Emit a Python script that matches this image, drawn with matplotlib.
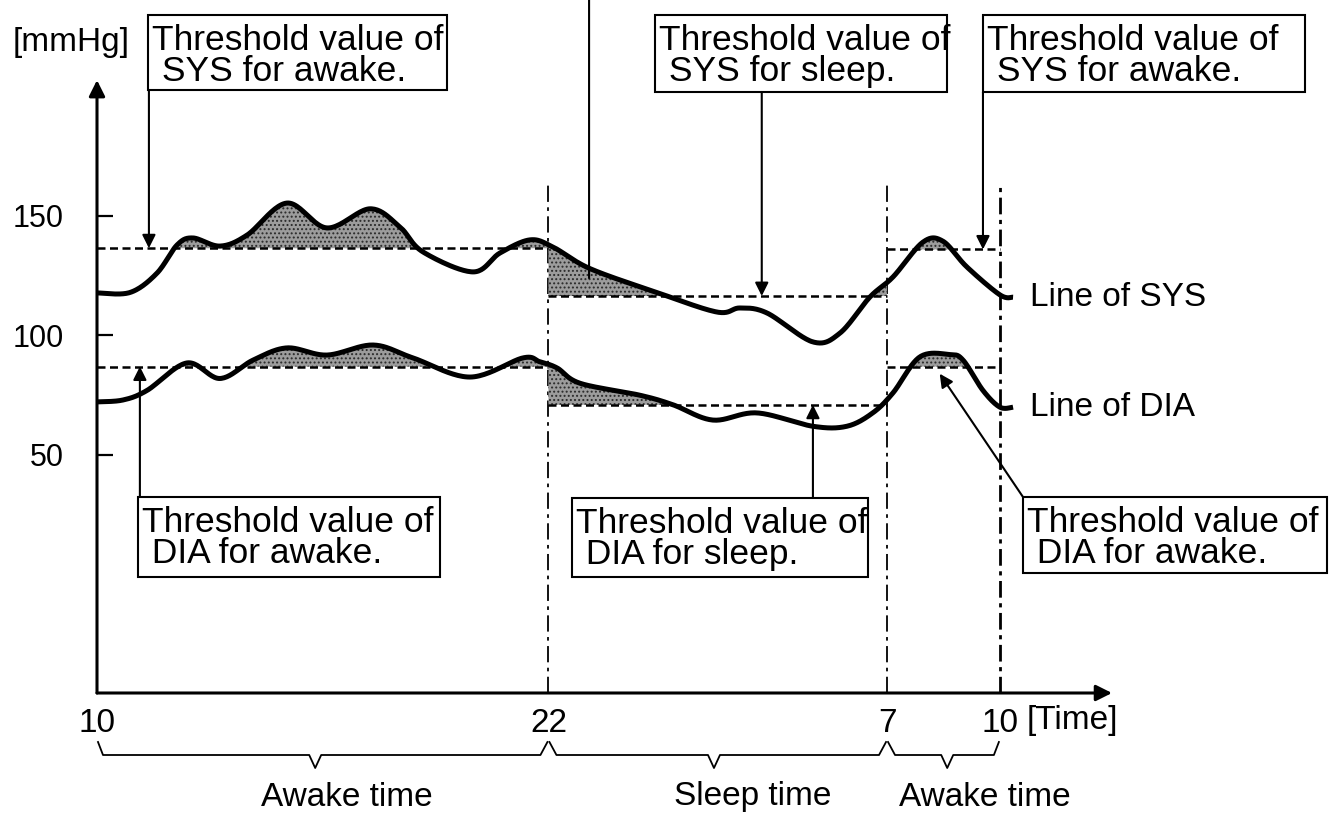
import numpy as np
import matplotlib
matplotlib.use("Agg")
import matplotlib.pyplot as plt
from matplotlib.patches import Rectangle
from matplotlib.lines import Line2D
from matplotlib.transforms import blended_transform_factory

plt.rcParams['font.family'] = ['Liberation Sans', 'DejaVu Sans']
plt.rcParams['hatch.linewidth'] = 0.9

# ---- data -------------------------------------------------------------
# hours elapsed since 10:00
time_sys = [0.0, 0.88, 1.59, 2.13, 2.55, 3.27, 3.99, 5.05, 6.11, 7.26, 8.05,
            8.66, 9.99, 10.71, 11.51, 12.12, 13.1, 14.88, 16.48, 17.09, 17.81,
            19.03, 19.75, 20.54, 21.16, 21.95, 22.48, 23.12, 24.0, 24.35]
sys_vals = [117.8, 118, 126, 137.9, 140.8, 137.4, 142, 155.4, 145, 153, 145.4,
            135, 126.6, 134.5, 140, 137, 128, 118, 109.8, 111.5, 109.4,
            97.3, 101, 116, 124.5, 139, 139.5, 128.7, 117, 116]

time_dia = [0.0, 0.69, 1.33, 2.39, 3.27, 4.15, 5.05, 6.11, 7.34, 8.4, 9.91,
            11.32, 11.77, 12.23, 12.84, 14.43, 15.31, 16.37, 17.54, 19.03,
            19.93, 20.62, 21.16, 21.87, 22.67, 23.02, 23.55, 24.0, 24.35]
dia_vals = [72.2, 73, 77, 88.5, 82, 89.7, 94.8, 91.8, 96, 90.6, 82.6,
            90.6, 89, 86.4, 80, 75, 71, 64.6, 67.6, 62,
            62, 67.6, 76, 91, 92, 89.7, 77, 70, 70]

# periods: (start hour, end hour)
period_bounds = [(0, 12), (12, 21), (21, 24)]
sys_thresholds = [136.5, 116.5, 136.0]
dia_thresholds = [87.0, 71.0, 87.0]

tick_hours = [0, 12, 21, 24]
tick_labels = ['10', '22', '7', '10']
ytick_vals = [50, 100, 150]

period_names = ['Awake time', 'Sleep time', 'Awake time']


def catmull_rom(xs, ys, n=24):
    pts = np.column_stack([xs, ys]).astype(float)
    P = np.vstack([pts[0], pts, pts[-1]])
    segs = []
    t = np.linspace(0, 1, n, endpoint=False)[:, None]
    for i in range(1, len(P) - 2):
        p0, p1, p2, p3 = P[i - 1], P[i], P[i + 1], P[i + 2]
        seg = 0.5 * (2 * p1 + (-p0 + p2) * t
                     + (2 * p0 - 5 * p1 + 4 * p2 - p3) * t ** 2
                     + (-p0 + 3 * p1 - 3 * p2 + p3) * t ** 3)
        segs.append(seg)
    segs.append(pts[-1][None])
    c = np.vstack(segs)
    order = np.argsort(c[:, 0], kind='stable')
    return c[order, 0], c[order, 1]


W, H = 1334, 817
fig = plt.figure(figsize=(W / 100, H / 100), dpi=100)
fig.patch.set_facecolor('white')


def fx(x):
    return x / W


def fy(y):
    return 1 - y / H


ax = fig.add_axes([fx(97), fy(693), (1112 - 97) / W, (693 - 85) / H])
ax.set_xlim(0, 26.98)
ax.set_ylim(-49.6, 204.8)
for s in ax.spines.values():
    s.set_visible(False)
ax.patch.set_alpha(0)

FS = 24
BOX_FS = 25.5
ax.set_yticks(ytick_vals)
ax.set_yticklabels([str(v) for v in ytick_vals], fontsize=22)
ax.tick_params(axis='y', direction='in', length=11.5, width=1.6, pad=24)
ax.set_xticks(tick_hours)
ax.set_xticklabels(tick_labels, fontsize=FS)
ax.tick_params(axis='x', length=0, pad=11)

# axes with arrowheads
arrow_kw = dict(arrowstyle='-|>', lw=2.2, color='black', mutation_scale=24,
                shrinkA=0, shrinkB=0)
ax.annotate('', xy=(0, 1.008), xycoords='axes fraction', xytext=(0, 0),
            arrowprops=arrow_kw, annotation_clip=False)
ax.annotate('', xy=(1, 0), xycoords='axes fraction', xytext=(0, 0),
            arrowprops=arrow_kw, annotation_clip=False)

# period boundaries
ax.plot([12, 12], [-49.6, 163.8], color='black', lw=1.3, ls=(0, (9, 3, 2, 3)))
ax.plot([21, 21], [-49.6, 163.8], color='black', lw=1.3, ls=(0, (9, 3, 2, 3)))
ax.plot([24, 24], [-49.6, 163.8], color='black', lw=2.0, ls=(0, (6, 2, 1.5, 2)))

# smooth curves
xs_s, ys_s = catmull_rom(time_sys, sys_vals)
xs_d, ys_d = catmull_rom(time_dia, dia_vals)
grid = np.linspace(0, time_sys[-1], 3000)
sys_g = np.interp(grid, xs_s, ys_s)
dia_g = np.interp(grid, xs_d, ys_d)

for (a, b), ts, td in zip(period_bounds, sys_thresholds, dia_thresholds):
    m = (grid >= a) & (grid <= b)
    for yy, thr in ((sys_g, ts), (dia_g, td)):
        ax.fill_between(grid[m], thr, yy[m], where=yy[m] > thr, interpolate=True,
                        facecolor='#9c9c9c', edgecolor='#2a2a2a', hatch='....',
                        lw=0, zorder=2)
        ax.plot([a, b], [thr, thr], color='black', lw=1.8,
                ls=(0, (3.2, 1.8)), zorder=3)

ax.plot(xs_s, ys_s, color='black', lw=3.6, solid_capstyle='butt', zorder=4)
ax.plot(xs_d, ys_d, color='black', lw=3.6, solid_capstyle='butt', zorder=4)

ax.text(24.8, sys_vals[-1], 'Line of SYS', fontsize=FS, va='center', ha='left')
ax.text(24.8, dia_vals[-1], 'Line of DIA', fontsize=FS, va='center', ha='left')

# axis units
fig.text(fx(71), fy(43), '[mmHg]', fontsize=FS, ha='center', va='center')
fig.text(fx(1072), fy(720), '[Time]', fontsize=FS, ha='center', va='center')


# labelled boxes
def label_box(x0, y0, x1, y1, line1, line2):
    fig.add_artist(Rectangle((fx(x0), fy(y1)), (x1 - x0) / W, (y1 - y0) / H,
                             transform=fig.transFigure, fill=False,
                             lw=1.5, edgecolor='black'))
    fig.text(fx(x0 + 4), fy(y0 + 35), line1, fontsize=BOX_FS, va='baseline')
    fig.text(fx(x0 + 4), fy(y0 + 66), line2, fontsize=BOX_FS, va='baseline')


label_box(148, 15, 447, 90, 'Threshold value of', ' SYS for awake.')
label_box(655, 15, 947, 92, 'Threshold value of', ' SYS for sleep.')
label_box(983, 15, 1305, 92, 'Threshold value of', ' SYS for awake.')
label_box(138, 497, 440, 577, 'Threshold value of', ' DIA for awake.')
label_box(572, 498, 868, 577, 'Threshold value of', ' DIA for sleep.')
label_box(1023, 497, 1327, 573, 'Threshold value of', ' DIA for awake.')

bt = blended_transform_factory(ax.transData, fig.transFigure)
lead_kw = dict(arrowstyle='-|>', lw=1.5, color='black', mutation_scale=20,
               shrinkA=0, shrinkB=0)


def leader(h, thr, y_img):
    ax.annotate('', xy=(h, thr), xycoords='data', xytext=(h, fy(y_img)),
                textcoords=bt, arrowprops=lead_kw, annotation_clip=False)


leader(1.38, sys_thresholds[0], 90)
leader(17.67, sys_thresholds[1], 92)
leader(23.55, sys_thresholds[2], 92)
leader(1.14, dia_thresholds[0], 497)
leader(19.03, dia_thresholds[1], 498)
ax.annotate('', xy=(22.4, 84), xycoords='data', xytext=(1023, H - 497),
            textcoords='figure pixels', arrowprops=lead_kw, annotation_clip=False)
# leader line from a label above the frame
ax.annotate('', xy=(13.08, 124), xycoords='data', xytext=(13.08, 1.0),
            textcoords=bt, arrowprops=dict(arrowstyle='-', lw=1.5, color='black',
                                           shrinkA=0, shrinkB=0),
            annotation_clip=False)

# braces under the time axis
fig.canvas.draw()


def hx(h):
    return ax.transData.transform((h, 0))[0]


y_top, y_line, y_tip = H - 742, H - 755, H - 768
tips = [5.8, 16.4, 22.6]
label_centers = [347, 753, 985]
for (a, b), tip, name, lc in zip(period_bounds, tips, period_names, label_centers):
    xa, xb, xt = hx(a), hx(b), hx(tip)
    xa_in = xa + 8 if a > 0 else xa + 6
    xb_in = xb - 8 if b < 24 else xb - 6
    xs = [xa + 1, xa_in, xt - 6, xt, xt + 6, xb_in, xb - 1]
    ys = [y_top, y_line, y_line, y_tip, y_line, y_line, y_top]
    fig.add_artist(Line2D(xs, ys, transform=None, color='black', lw=1.3))
    fig.text(fx(lc), fy(797), name, fontsize=FS, ha='center', va='center')

fig.savefig('out.png', dpi=100, facecolor='white')
